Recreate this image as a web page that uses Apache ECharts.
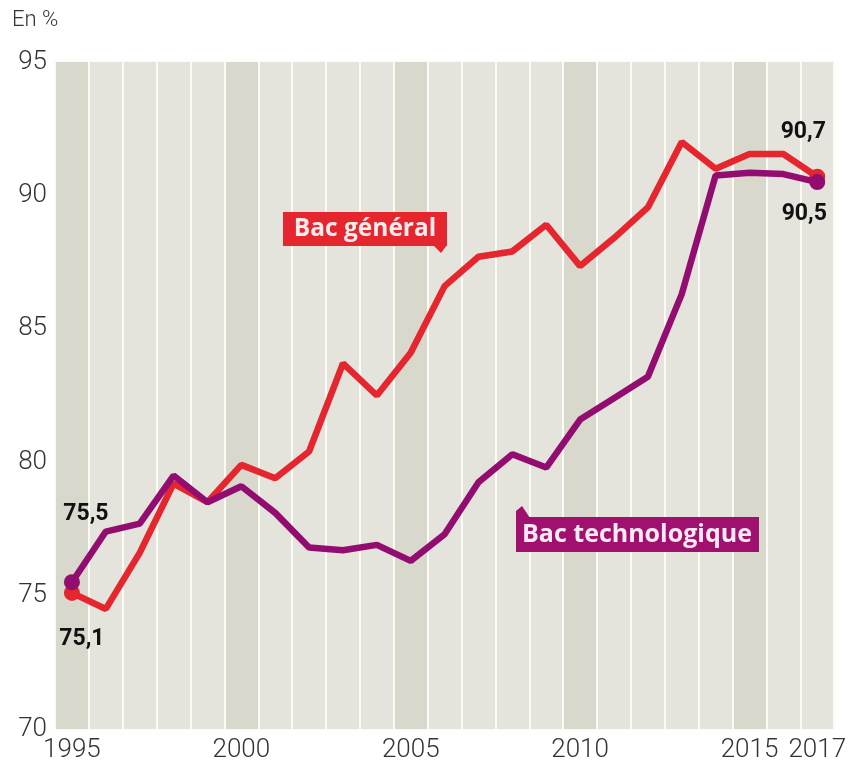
<!DOCTYPE html>
<html>
<head>
<meta charset="utf-8">
<script src="https://cdn.jsdelivr.net/npm/echarts@6/dist/echarts.min.js"></script>
<style>
  html, body { margin: 0; padding: 0; background: #fff; }
  #chart { width: 849px; height: 765px; }
</style>
</head>
<body>
<div id="chart"></div>
<script>
const years = ['1995', '1996', '1997', '1998', '1999', '2000', '2001', '2002', '2003', '2004', '2005', '2006',
  '2007', '2008', '2009', '2010', '2011', '2012', '2013', '2014', '2015', '2016', '2017']
const shownYears = ['1995', '2000', '2005', '2010', '2015', '2017']

const bacGeneral = [75.1, 74.5, 76.6, 79.2, 78.5, 79.9, 79.4, 80.4, 83.7, 82.5, 84.1, 86.6,
  87.7, 87.9, 88.9, 87.35, 88.4, 89.55, 92.0, 91.0, 91.55, 91.55, 90.7]
const bacTechno = [75.5, 77.4, 77.7, 79.5, 78.5, 79.1, 78.1, 76.8, 76.7, 76.9, 76.3, 77.3,
  79.25, 80.3, 79.8, 81.6, 82.4, 83.2, 86.3, 90.75, 90.85, 90.8, 90.5]

const RED = '#e5262f'
const VIOLET = '#930d70'
const BAND_LIGHT = '#e4e3dc'
const BAND_DARK = '#d9d8cc'

const chart = echarts.init(document.getElementById('chart'))

// first and last points carry a dot and a value label
const withEndLabels = (values, firstOffset, lastOffset) =>
  values.map((v, i) => {
    if (i === 0 || i === values.length - 1) {
      return {
        value: v,
        label: {
          show: true,
          position: 'inside',
          offset: i === 0 ? firstOffset : lastOffset,
          formatter: (p) => String(p.value).replace('.', ','),
          color: '#111',
          fontFamily: 'Roboto',
          fontWeight: 'bold',
          fontSize: 23,
        },
      }
    }
    return v
  })

const endSymbol = (value, params) =>
  params.dataIndex === 0 || params.dataIndex === years.length - 1 ? 16 : 0

const option = {
  animation: false,
  backgroundColor: '#fff',
  grid: { left: 55, right: 10, top: 62, bottom: 36 },
  xAxis: {
    type: 'category',
    data: years,
    boundaryGap: true,
    axisLine: { show: false },
    axisTick: { show: false },
    axisLabel: {
      interval: (idx, val) => shownYears.includes(val),
      color: '#333',
      fontFamily: 'Roboto',
      fontWeight: 300,
      fontSize: 26,
      margin: 8,
    },
    splitLine: { show: true, interval: 0, lineStyle: { color: '#fbfbf6', width: 2 } },
    splitArea: {
      show: true,
      interval: 0,
      areaStyle: { color: [BAND_DARK, BAND_LIGHT, BAND_LIGHT, BAND_LIGHT, BAND_LIGHT] },
    },
  },
  yAxis: {
    type: 'value',
    min: 70,
    max: 95,
    interval: 5,
    axisLine: { show: false },
    axisTick: { show: false },
    axisLabel: {
      color: '#333',
      fontFamily: 'Roboto',
      fontWeight: 300,
      fontSize: 26,
      margin: 8,
    },
    splitLine: { lineStyle: { color: '#fbfbf6', width: 2 } },
  },
  graphic: [
    {
      type: 'text',
      left: 12,
      top: 9,
      z: 100,
      style: { text: 'En %', fill: '#333', font: '300 22px Roboto' },
    },
    {
      type: 'group',
      left: 283,
      top: 212,
      z: 100,
      children: [
        { type: 'rect', z: 100, shape: { x: 0, y: 0, width: 164, height: 34 }, style: { fill: RED } },
        { type: 'polygon', z: 100, shape: { points: [[150, 33], [164, 33], [158, 41]] }, style: { fill: RED } },
        {
          type: 'text',
          z: 101,
          x: 82,
          y: 17,
          style: { text: 'Bac général', fill: '#fdecec', font: 'bold 24.5px "Open Sans"', align: 'center', verticalAlign: 'middle' },
        },
      ],
    },
    {
      type: 'group',
      left: 516,
      top: 506,
      z: 100,
      children: [
        { type: 'rect', z: 100, shape: { x: 0, y: 11, width: 243, height: 35 }, style: { fill: '#a0116f' } },
        { type: 'polygon', z: 100, shape: { points: [[0, 12], [0, 5], [6, 0], [14, 12]] }, style: { fill: '#a0116f' } },
        {
          type: 'text',
          z: 101,
          x: 121,
          y: 29,
          style: { text: 'Bac technologique', fill: '#fbeaf3', font: 'bold 25px "Open Sans"', align: 'center', verticalAlign: 'middle' },
        },
      ],
    },
  ],
  series: [
    {
      name: 'Bac technologique',
      type: 'line',
      data: withEndLabels(bacTechno, [14, -68], [-13, 32]),
      symbol: 'circle',
      symbolSize: endSymbol,
      showSymbol: true,
      itemStyle: { color: VIOLET },
      lineStyle: { color: VIOLET, width: 6.5 },
      z: 3,
    },
    {
      name: 'Bac général',
      type: 'line',
      data: withEndLabels(bacGeneral, [10, 46], [-14, -44]),
      symbol: 'circle',
      symbolSize: endSymbol,
      showSymbol: true,
      itemStyle: { color: RED },
      lineStyle: { color: RED, width: 6.5 },
      z: 2,
    },
  ],
}

chart.setOption(option)
</script>
</body>
</html>
